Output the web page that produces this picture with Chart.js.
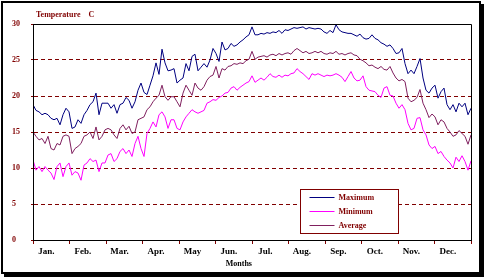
<!DOCTYPE html>
<html>
<head>
<meta charset="utf-8">
<script src="https://cdn.jsdelivr.net/npm/chart.js@4/dist/chart.umd.min.js"></script>
<style>
  html, body { margin: 0; padding: 0; background: #fff; }
  #wrap { position: relative; width: 487px; height: 279px; }
</style>
</head>
<body>
<div id="wrap"><canvas id="c" width="487" height="279"></canvas></div>
<script>
// ---- data (one value every ~2.5 days) ----
const seriesNames = ['Maximum', 'Minimum', 'Average'];
const monthLabels = ['Jan.', 'Feb.', 'Mar.', 'Apr.', 'May', 'Jun.', 'Jul.', 'Aug.', 'Sep.', 'Oct.', 'Nov.', 'Dec.'];
const yTicks = [0, 5, 10, 15, 20, 25, 30];

const maximum = [
  18.8, 18.0, 17.8, 17.4, 17.6, 17.4, 16.9, 16.7, 16.9, 16.0,
  17.4, 18.3, 17.8, 15.5, 15.7, 16.7, 16.2, 17.4, 18.0, 18.8,
  19.2, 20.4, 17.4, 19.0, 19.0, 19.0, 18.3, 18.8, 17.6, 18.8,
  19.0, 19.8, 19.4, 18.3, 19.2, 20.8, 21.8, 20.5, 20.2, 21.5,
  22.8, 24.6, 23.0, 26.5, 24.6, 23.5, 23.6, 23.8, 21.8, 22.2,
  22.5, 24.5, 23.5, 25.5, 25.8, 23.5, 24.0, 24.5, 24.0, 25.0,
  26.6, 25.9, 24.8, 27.5, 26.4, 26.6, 27.3, 26.9, 27.1, 27.5,
  27.8, 28.2, 28.5, 29.6, 28.5, 28.5, 28.7, 28.6, 28.8, 28.7,
  28.9, 28.8, 29.1, 28.7, 29.2, 29.1, 29.3, 29.5, 29.4, 29.5,
  29.6, 29.3, 29.5, 29.4, 29.3, 29.4, 29.3, 28.9, 28.7, 29.1,
  28.8, 29.9, 29.2, 28.9, 28.8, 28.7, 28.7, 28.5, 28.3, 28.6,
  28.1, 27.9, 28.0, 28.5, 28.0, 27.8, 27.4, 27.2, 26.9, 27.1,
  26.6, 25.9, 26.0, 26.6, 24.5, 23.1, 23.6, 23.1, 24.1, 25.2,
  22.5, 20.8, 20.4, 21.1, 21.5, 19.7, 20.6, 21.1, 18.8, 18.1,
  18.8, 17.8, 19.0, 18.5, 19.0, 17.4, 18.3
];
const minimum = [
  11.1, 9.7, 10.2, 9.5, 10.2, 9.7, 9.3, 8.4, 10.2, 10.7,
  8.8, 10.2, 10.7, 9.0, 9.5, 9.3, 8.3, 10.4, 10.7, 11.3,
  10.9, 11.1, 9.5, 10.7, 10.7, 11.8, 12.0, 10.9, 11.3, 12.3,
  12.7, 12.0, 12.5, 11.6, 13.4, 14.4, 12.7, 11.6, 14.8, 15.5,
  16.4, 15.7, 17.4, 17.8, 17.1, 15.5, 16.7, 16.7, 15.5, 15.3,
  16.4, 17.1, 17.6, 18.1, 17.8, 17.6, 17.8, 18.0, 19.0, 19.2,
  19.5, 19.4, 19.8, 20.0, 20.4, 20.5, 21.1, 21.3, 20.8, 21.2,
  21.5, 21.8, 22.0, 22.8, 21.9, 22.2, 22.5, 22.2, 22.6, 23.1,
  22.7, 22.6, 22.9, 22.6, 22.9, 22.8, 23.1, 23.2, 23.8, 23.4,
  23.1, 22.7, 22.3, 23.1, 22.9, 23.1, 22.9, 22.7, 22.9, 22.8,
  22.9, 23.1, 22.9, 22.6, 22.0, 22.7, 23.4, 22.5, 22.1, 22.2,
  22.8, 21.3, 20.8, 20.7, 20.6, 20.1, 19.8, 21.1, 21.3, 20.1,
  20.0, 19.0, 18.3, 18.8, 18.1, 16.2, 15.3, 15.5, 16.9, 17.0,
  15.3, 14.6, 13.2, 12.7, 13.0, 12.0, 12.3, 11.6, 11.1, 10.7,
  10.0, 11.5, 10.9, 11.7, 10.9, 9.7, 11.0
];
const average = [
  15.0, 14.4, 13.9, 14.1, 13.4, 14.4, 12.7, 12.5, 13.4, 13.2,
  14.4, 14.6, 14.4, 12.0, 12.7, 13.0, 13.4, 14.4, 14.6, 15.0,
  14.1, 15.7, 13.9, 14.4, 15.3, 15.5, 15.3, 14.6, 14.1, 15.5,
  16.0, 15.3, 15.8, 14.8, 15.0, 16.7, 16.9, 17.1, 18.1, 18.5,
  19.2, 19.7, 20.1, 21.5, 19.9, 19.4, 19.9, 19.9, 19.2, 18.5,
  20.4, 21.5, 20.8, 20.1, 21.8, 21.1, 20.8, 21.3, 22.2, 22.7,
  22.9, 24.1, 22.5, 23.8, 23.6, 24.1, 24.2, 24.5, 24.4, 24.6,
  24.5, 24.9, 25.1, 26.2, 25.1, 25.4, 25.5, 25.6, 25.4, 25.7,
  25.8, 25.6, 25.9, 25.7, 25.9, 26.0, 25.8, 26.3, 26.6, 26.3,
  26.0, 26.2, 25.9, 26.0, 26.2, 26.0, 26.2, 25.9, 25.8, 26.0,
  25.9, 26.2, 25.8, 25.9, 25.7, 25.9, 26.0, 25.7, 25.6, 25.1,
  24.9, 24.6, 24.2, 24.3, 24.0, 23.8, 24.1, 23.7, 23.6, 24.1,
  23.2, 22.5, 22.1, 22.3, 22.0, 19.7, 19.2, 19.4, 19.8, 20.9,
  19.0, 18.1, 17.0, 17.5, 17.1, 16.0, 16.7, 16.4, 15.5, 15.0,
  14.4, 14.6, 15.2, 14.8, 14.4, 13.3, 14.6
];

// ---- derived values for the library ----
const DAYS = 365;
const days = maximum.map((_, i) => i * DAYS / (maximum.length - 1));
const monthBounds = Array.from({length: 13}, (_, k) => k * DAYS / 12);
const monthCenters = monthLabels.map((_, k) => (k + 0.5) * DAYS / 12 - 4);
const toPoints = arr => arr.map((v, i) => ({x: days[i], y: v}));

const DARK_RED = '#800000';
const FONT = "'Liberation Serif', 'Times New Roman', serif";
const colors = ['#000080', '#ff00ff', '#80205f'];

const decor = {
  id: 'decor',
  beforeDraw(chart) {
    const ctx = chart.ctx;
    const W = chart.width, H = chart.height;
    ctx.save();
    ctx.fillStyle = '#fff';
    ctx.fillRect(0, 0, W, H);
    ctx.fillStyle = '#000';
    // frame
    ctx.fillRect(1, 1, W - 7, 2);
    ctx.fillRect(1, 1, 2, H - 6);
    ctx.fillRect(W - 8, 1, 2, H - 6);
    ctx.fillRect(1, H - 7, W - 7, 2);
    // shadow
    ctx.fillRect(W - 6, 4, 3, H - 7);
    ctx.fillRect(4, H - 5, W - 7, 3);
    ctx.restore();
  },
  afterDraw(chart) {
    const ctx = chart.ctx;
    const a = chart.chartArea;
    ctx.save();
    // plot frame
    ctx.strokeStyle = '#000';
    ctx.lineWidth = 1;
    ctx.beginPath();
    ctx.moveTo(a.left + 0.5, a.bottom);
    ctx.lineTo(a.left + 0.5, a.top + 0.5);
    ctx.lineTo(a.right + 0.5, a.top + 0.5);
    ctx.lineTo(a.right + 0.5, a.bottom + 0.5);
    ctx.stroke();
    // title
    ctx.fillStyle = DARK_RED;
    ctx.font = "bold 8px " + FONT;
    ctx.textBaseline = 'middle';
    ctx.textAlign = 'left';
    ctx.fillText('Temperature    C', a.left + 3, a.top - 9);
    // x title
    ctx.fillStyle = '#000';
    ctx.font = "bold 8px " + FONT;
    ctx.textAlign = 'center';
    ctx.fillText('Months', a.left + a.width * 0.47, a.bottom + 24);
    // legend
    const bx = Math.round(a.left + a.width * 0.61) + 0.5;
    const by = Math.round(a.top + a.height * 0.764) + 0.5;
    const bw = 98, bh = 44;
    ctx.fillStyle = '#fff';
    ctx.fillRect(bx, by, bw, bh);
    ctx.strokeStyle = DARK_RED;
    ctx.strokeRect(bx, by, bw, bh);
    ctx.font = "bold 8px " + FONT;
    ctx.textAlign = 'left';
    chart.data.datasets.forEach((ds, i) => {
      const y = Math.round(by + 7 + i * 14) + 0.5;
      ctx.strokeStyle = ds.borderColor;
      ctx.beginPath();
      ctx.moveTo(bx + 9, y);
      ctx.lineTo(bx + 34, y);
      ctx.stroke();
      ctx.fillStyle = DARK_RED;
      ctx.fillText(ds.label, bx + 38, y);
    });
    ctx.restore();
  }
};

new Chart(document.getElementById('c'), {
  type: 'line',
  data: {
    datasets: [
      {label: seriesNames[0], data: toPoints(maximum), borderColor: colors[0]},
      {label: seriesNames[1], data: toPoints(minimum), borderColor: colors[1]},
      {label: seriesNames[2], data: toPoints(average), borderColor: colors[2]}
    ]
  },
  options: {
    responsive: false,
    animation: false,
    devicePixelRatio: 1,
    layout: {padding: {left: 12, right: 16, top: 24, bottom: 0}},
    elements: {
      line: {borderWidth: 1, tension: 0, fill: false},
      point: {radius: 0, hoverRadius: 0}
    },
    plugins: {legend: {display: false}, tooltip: {enabled: false}, title: {display: false}},
    scales: {
      x: {
        type: 'linear', position: 'bottom', min: 0, max: DAYS, weight: 0,
        afterBuildTicks: s => { s.ticks = monthBounds.map(v => ({value: v})); },
        afterFit: s => { s.height = 4; },
        ticks: {display: false},
        grid: {drawOnChartArea: false, tickLength: 4, color: DARK_RED, tickColor: DARK_RED},
        border: {color: '#000', width: 1}
      },
      xm: {
        type: 'linear', position: 'bottom', min: 0, max: DAYS, weight: 1,
        afterBuildTicks: s => { s.ticks = monthCenters.map(v => ({value: v})); },
        afterFit: s => { s.height = 35; },
        ticks: {
          autoSkip: false, maxRotation: 0, padding: 2, color: '#000',
          font: {family: FONT, size: 9, weight: 'bold'},
          callback: (v, i) => monthLabels[i]
        },
        grid: {display: false, drawTicks: false},
        border: {display: false}
      },
      y: {
        min: 0, max: 30,
        afterBuildTicks: s => { s.ticks = yTicks.map(v => ({value: v})); },
        afterFit: s => { s.width = 21; },
        ticks: {
          crossAlign: 'far', padding: 2, color: DARK_RED,
          font: {family: FONT, size: 8, weight: 'bold'}
        },
        grid: {
          color: c => (c.tick && (c.tick.value === 0 || c.tick.value === 30)) ? 'rgba(0,0,0,0)' : DARK_RED,
          tickColor: DARK_RED, tickLength: 2, tickBorderDash: []
        },
        border: {color: '#000', width: 1, dash: [4, 3]}
      }
    }
  },
  plugins: [decor]
});
</script>
</body>
</html>
